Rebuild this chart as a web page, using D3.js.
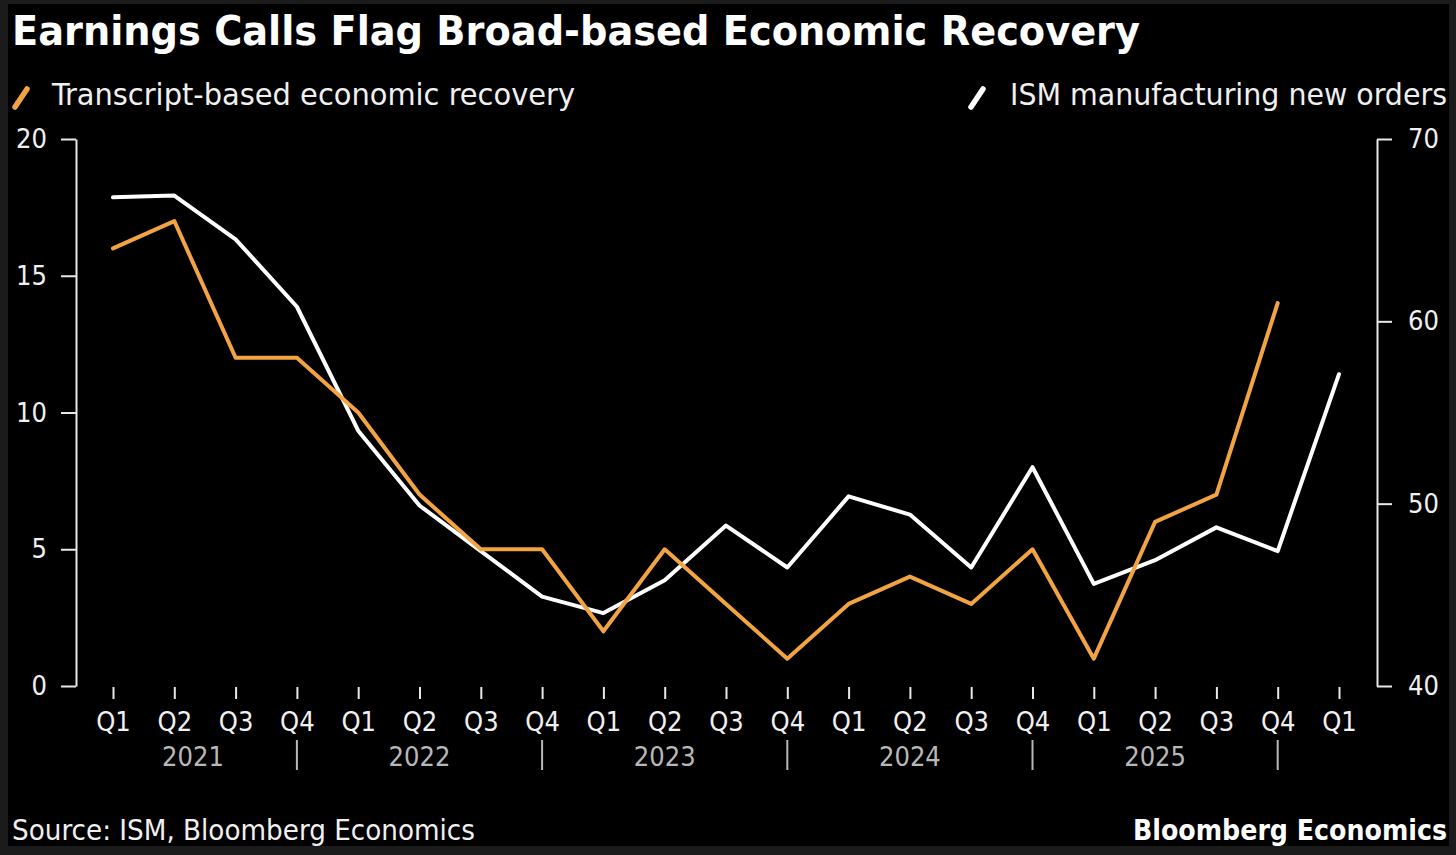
<!DOCTYPE html>
<html>
<head>
<meta charset="utf-8">
<script src="https://cdn.jsdelivr.net/npm/d3@7"></script>
<style>
  html, body { margin: 0; padding: 0; background: #1b1b1b; }
  svg { display: block; }
</style>
</head>
<body>
<svg id="chart" width="1456" height="855"></svg>
<script>
// ---------- data ----------
const quarterKeys = ["2021Q1","2021Q2","2021Q3","2021Q4","2022Q1","2022Q2","2022Q3","2022Q4",
  "2023Q1","2023Q2","2023Q3","2023Q4","2024Q1","2024Q2","2024Q3","2024Q4",
  "2025Q1","2025Q2","2025Q3","2025Q4","2026Q1"];
const quarterLabels = ["Q1","Q2","Q3","Q4","Q1","Q2","Q3","Q4","Q1","Q2","Q3","Q4",
  "Q1","Q2","Q3","Q4","Q1","Q2","Q3","Q4","Q1"];
const transcriptValues = [16,17,12,12,10,7,5,5,2,5,3,1,3,4,3,5,1,6,7,14,null];
const ismValues = [66.8,66.9,64.5,60.8,54.0,49.9,47.4,44.9,44.0,45.8,48.8,46.5,50.4,49.4,46.5,52.0,45.6,46.9,48.7,47.4,57.1];
const yearLabels = ["2021","2022","2023","2024","2025"];
const yearSeparators = ["2021Q4","2022Q4","2023Q4","2024Q4","2025Q4"];
const leftTicks = [0,5,10,15,20];
const rightTicks = [40,50,60,70];
const seriesNames = ["Transcript-based economic recovery","ISM manufacturing new orders"];

const title = "Earnings Calls Flag Broad-based Economic Recovery";
const sourceText = "Source: ISM, Bloomberg Economics";
const brandText = "Bloomberg Economics";

// ---------- styles ----------
const ORANGE = "#f2a443";
const WHITE = "#ffffff";
const GREY = "#b8b8b8";
const FONT = "'DejaVu Sans Condensed', 'DejaVu Sans', sans-serif";

const svg = d3.select("#chart");
svg.append("rect").attr("x",0).attr("y",0).attr("width",1456).attr("height",855).attr("fill","#1b1b1b");
svg.append("rect").attr("x",8).attr("y",4).attr("width",1441).attr("height",842).attr("fill","#000");

// ---------- scales ----------
const x = d3.scalePoint().domain(quarterKeys).range([113, 1339]);
const yL = d3.scaleLinear().domain([0, 20]).range([686, 139]);
const yR = d3.scaleLinear().domain([40, 70]).range([686, 139]);

function fitText(sel, width) {
  const node = sel.node();
  const w = node.getComputedTextLength();
  if (w > 0) sel.attr("textLength", width).attr("lengthAdjust", "spacingAndGlyphs");
}

// ---------- title ----------
const t = svg.append("text").attr("x", 12).attr("y", 45)
  .attr("fill", WHITE).attr("font-family", FONT).attr("font-weight", "bold")
  .attr("font-size", 41).text(title);
fitText(t, 1128);

// ---------- legend ----------
svg.append("line").attr("x1", 15).attr("y1", 107).attr("x2", 27).attr("y2", 89)
  .attr("stroke", ORANGE).attr("stroke-width", 5.5).attr("stroke-linecap", "round");
const l1 = svg.append("text").attr("x", 52).attr("y", 105)
  .attr("fill", "#f0f0f0").attr("font-family", FONT).attr("font-size", 30).text(seriesNames[0]);
fitText(l1, 523);

svg.append("line").attr("x1", 971).attr("y1", 107).attr("x2", 983).attr("y2", 89)
  .attr("stroke", WHITE).attr("stroke-width", 5.5).attr("stroke-linecap", "round");
const l2 = svg.append("text").attr("x", 1010).attr("y", 105)
  .attr("fill", "#f0f0f0").attr("font-family", FONT).attr("font-size", 30).text(seriesNames[1]);
fitText(l2, 437);

// ---------- axes ----------
const leftAxis = d3.axisLeft(yL).tickValues(leftTicks).tickSize(15).tickPadding(14).tickSizeOuter(0);
const gL = svg.append("g").attr("transform", "translate(76,0)").call(leftAxis);
const rightAxis = d3.axisRight(yR).tickValues(rightTicks).tickSize(15).tickPadding(16).tickSizeOuter(0);
const gR = svg.append("g").attr("transform", "translate(1377,0)").call(rightAxis);
[gL, gR].forEach(g => {
  g.select(".domain").attr("stroke", "#e8e8e8").attr("stroke-width", 2);
  g.selectAll(".tick line").attr("stroke", "#e8e8e8").attr("stroke-width", 2);
  g.selectAll(".tick text").attr("fill", "#f0f0f0").attr("font-family", FONT).attr("font-size", 27);
});

const bottomAxis = d3.axisBottom(x).tickFormat((d, i) => quarterLabels[i]).tickSize(12).tickPadding(13).tickSizeOuter(0);
const gB = svg.append("g").attr("transform", "translate(0,687)").call(bottomAxis);
gB.select(".domain").remove();
gB.selectAll(".tick line").attr("stroke", "#e8e8e8").attr("stroke-width", 2);
gB.selectAll(".tick text").attr("fill", "#f0f0f0").attr("font-family", FONT).attr("font-size", 27);

// year separators
svg.append("g").selectAll("line").data(yearSeparators).join("line")
  .attr("x1", d => x(d)).attr("x2", d => x(d))
  .attr("y1", 740).attr("y2", 770)
  .attr("stroke", GREY).attr("stroke-width", 2);

// year labels centered between separators (first one starts at plot left edge)
const plotLeft = 89;
svg.append("g").selectAll("text").data(yearLabels).join("text")
  .attr("x", (d, i) => {
    const right = x(yearSeparators[i]);
    const left = i === 0 ? plotLeft : x(yearSeparators[i - 1]);
    return (left + right) / 2;
  })
  .attr("y", 766)
  .attr("text-anchor", "middle")
  .attr("fill", GREY).attr("font-family", FONT).attr("font-size", 27)
  .text(d => d);

// ---------- lines ----------
const ismLine = d3.line().x((d, i) => x(quarterKeys[i])).y(d => yR(d));
const trLine = d3.line().defined(d => d != null).x((d, i) => x(quarterKeys[i])).y(d => yL(d));

svg.append("path").datum(ismValues).attr("d", ismLine)
  .attr("fill", "none").attr("stroke", WHITE).attr("stroke-width", 4)
  .attr("stroke-linejoin", "round").attr("stroke-linecap", "round");
svg.append("path").datum(transcriptValues).attr("d", trLine)
  .attr("fill", "none").attr("stroke", ORANGE).attr("stroke-width", 4)
  .attr("stroke-linejoin", "round").attr("stroke-linecap", "round");

// ---------- footer ----------
const s = svg.append("text").attr("x", 12).attr("y", 840)
  .attr("fill", "#f0f0f0").attr("font-family", FONT).attr("font-size", 28).text(sourceText);
fitText(s, 463);
const b = svg.append("text").attr("x", 1447).attr("y", 840).attr("text-anchor", "end")
  .attr("fill", WHITE).attr("font-family", FONT).attr("font-weight", "bold").attr("font-size", 28).text(brandText);
fitText(b, 314);
</script>
</body>
</html>
